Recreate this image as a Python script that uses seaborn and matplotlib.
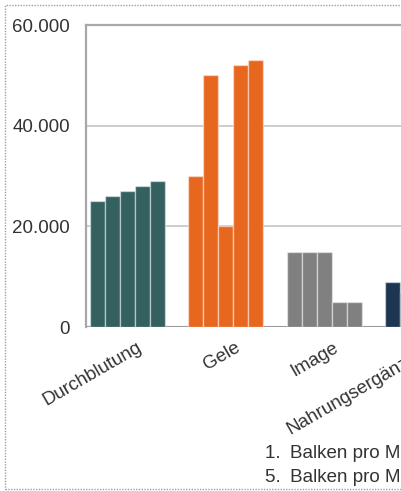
import matplotlib
matplotlib.use("Agg")
import matplotlib.pyplot as plt
import matplotlib.transforms as mtransforms
from matplotlib.patches import Rectangle
import numpy as np
import pandas as pd
import seaborn as sns

# Sales volume per brand segment, five bars per segment
kategorien = ["Durchblutung", "Gele", "Image", "Nahrungsergänzung"]
durchblutung = [25000, 26000, 27000, 28000, 29000]
gele = [30000, 50000, 20000, 52000, 53000]
image = [15000, 15000, 15000, 5000, 5000]
nahrungsergaenzung = [9000, 7000]

farben = ["#346060", "#e8671f", "#808080", "#1f3652"]
y_ticks = [0, 20000, 40000, 60000]
legende = ["1.\u2002Balken pro Marke", "5.\u2002Balken pro Marke"]

werte = [durchblutung, gele, image, nahrungsergaenzung]
rows = []
for kat, vals in zip(kategorien, werte):
    for i, v in enumerate(vals, start=1):
        rows.append({"Kategorie": kat, "Balken": i, "Wert": v})
df = pd.DataFrame(rows)

sns.set_theme(style="white")
plt.rcParams["font.family"] = ["Liberation Sans", "DejaVu Sans"]

W, H, DPI = 402, 491, 100
fig = plt.figure(figsize=(W / DPI, H / DPI), dpi=DPI)

# plot area: one category step is about 98 px wide, area runs past the right edge
x_left, x_right = -0.422, 3.6
step_px = 98.3
ax_left, ax_top, ax_bottom = 86, 25, 327
ax_w = step_px * (x_right - x_left)
ax = fig.add_axes([ax_left / W, (H - ax_bottom) / H, ax_w / W, (ax_bottom - ax_top) / H])

sns.barplot(data=df, x="Kategorie", y="Wert", hue="Balken", order=kategorien,
            hue_order=[1, 2, 3, 4, 5], dodge=True, width=0.763, gap=0,
            legend=False, ax=ax, errorbar=None, saturation=1)

for bar in ax.patches:
    idx = int(round(bar.get_x() + bar.get_width() / 2))
    bar.set_facecolor(farben[idx])
    bar.set_edgecolor((1, 1, 1, 0.45))
    bar.set_linewidth(1.0)
    bar.set_zorder(2)

ax.set_xlim(x_left, x_right)
ax.set_ylim(0, 60000)
ax.set_yticks(y_ticks)
ax.set_yticklabels([f"{v:,.0f}".replace(",", ".") for v in y_ticks])
ax.set_xlabel("")
ax.set_ylabel("")

ax.yaxis.grid(True, color="#c9c9c9", lw=1.3)
ax.set_axisbelow(True)
ax.axhline(0, color="#9a9a9a", lw=1.5, zorder=1)

for side in ["right", "bottom"]:
    ax.spines[side].set_visible(False)
for side in ["left", "top"]:
    ax.spines[side].set_color("#a8a8a8")
    ax.spines[side].set_linewidth(1.6)

ax.tick_params(axis="y", length=0, pad=11.5, labelsize=13.5, labelcolor="#333333")
ax.tick_params(axis="x", length=0, pad=8.5, labelsize=13.5, labelcolor="#333333")
ax.set_xticks(range(len(kategorien)))
ax.set_xticklabels(kategorien, rotation=30, ha="right", va="top", rotation_mode="anchor")
shift = mtransforms.ScaledTranslation(9 / DPI, 0, fig.dpi_scale_trans)
for lbl in ax.get_xticklabels():
    lbl.set_transform(lbl.get_transform() + shift)

# legend lines below the plot
for i, txt in enumerate(legende):
    fig.text(265 / W, 1 - (453 + 24 * i) / H, txt, fontsize=13.5, color="#333333",
             ha="left", va="center")

# dotted chart-area border
fig.patches.append(Rectangle((5 / W, 2 / H), 1.2, (H - 7) / H, transform=fig.transFigure,
                             fill=False, ls=(0, (1, 1)), lw=1.0, ec="#a0a0a0"))

fig.savefig("out.png", dpi=DPI)
